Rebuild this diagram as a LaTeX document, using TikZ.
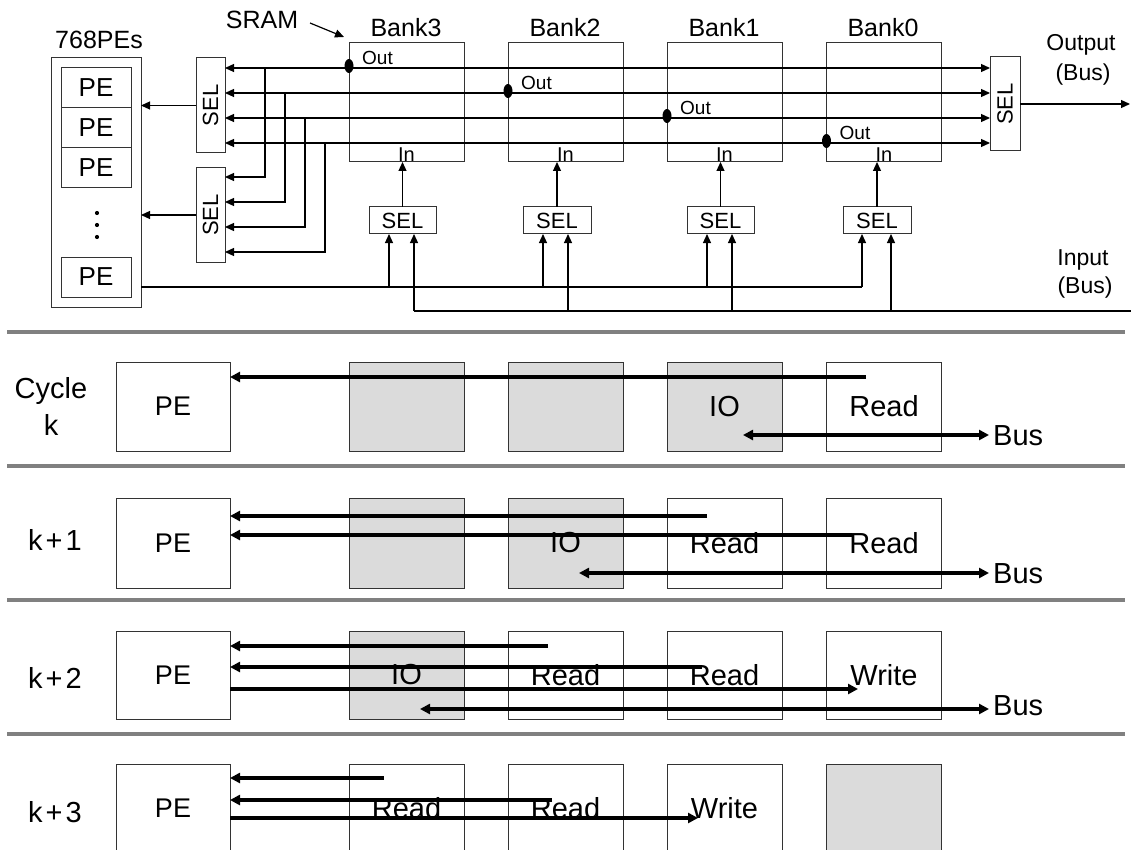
\documentclass[tikz,border=0pt]{standalone}
\usepackage{fontspec}
\setmainfont{Liberation Sans}
\usetikzlibrary{arrows.meta}
\newcommand\myfs[1]{\fontsize{#1}{#1}\selectfont}
\begin{document}
\begin{tikzpicture}[x=1pt,y=-1pt,
  box/.style={draw=black!80, line width=1pt, inner sep=0pt, outer sep=0pt, fill=white},
  gbox/.style={box, fill=black!14},
  tl/.style={line width=1.2pt},
  ttip/.style={tl, -{Triangle[length=9pt,width=8pt]}},
  ttwo/.style={tl, {Triangle[length=9pt,width=8pt]}-{Triangle[length=9pt,width=8pt]}},
  rl/.style={line width=3.2pt},
  rtip/.style={rl, -{Triangle[length=10pt,width=10pt]}},
  rtwo/.style={rl, {Triangle[length=10pt,width=10pt]}-{Triangle[length=10pt,width=10pt]}},
  sep/.style={draw=black!50, line width=3.8pt},
  lbl/.style={font=\myfs{25}, inner sep=0pt},
  sel/.style={box, font=\myfs{22}},
  rowtxt/.style={font=\myfs{29}},
]
\clip (0,0) rectangle (1131,850);
\fill[white] (0,0) rectangle (1131,850);

% ---------- top: architecture ----------
\node[lbl] (t768) at (99,40) {768PEs};
\node[lbl] (tsram) at (262,20) {SRAM};
\coordinate (sramA) at (310,23);
\coordinate (sramB) at (344,37);
\draw[ttip] (sramA) -- (sramB);

\node[box, minimum width=90, minimum height=249] (peo) at (96,182.5) {};
\node[box, minimum width=70, minimum height=40, font=\myfs{26}] (pe1) at (96,88) {PE};
\node[box, minimum width=70, minimum height=40, font=\myfs{26}] (pe2) at (96,128) {PE};
\node[box, minimum width=70, minimum height=40, font=\myfs{26}] (pe3) at (96,168) {PE};
\node[box, minimum width=70, minimum height=40, font=\myfs{26}] (pe4) at (96,277) {PE};
\fill (97,213) circle (2.1) (97,225) circle (2.1) (97,237) circle (2.1);

\node[sel, minimum width=29, minimum height=95] (selA) at (210.5,105.5) {};
\node[rotate=90, font=\myfs{22}, inner sep=0pt] at (selA.center) {SEL};
\node[sel, minimum width=29, minimum height=94] (selB) at (210.5,215) {};
\node[rotate=90, font=\myfs{22}, inner sep=0pt] at (selB.center) {SEL};
\node[sel, minimum width=30, minimum height=94] (selO) at (1005,104) {};
\node[rotate=90, font=\myfs{22}, inner sep=0pt] at (selO.center) {SEL};

\draw[ttip] (selA.west) -- (peo.east |- selA.west);
\draw[ttip] (selB.west) -- (peo.east |- selB.west);

% banks
\foreach \n/\cx/\sx/\sw in {b3/406.5/402.5/67, b2/565.5/557/68, b1/724.5/720.5/67, b0/884/877/68}{
  \node[box, minimum width=115, minimum height=119] (\n) at (\cx,102.5) {};
  \node[sel, minimum width=\sw, minimum height=27] (s\n) at (\sx,220.5) {SEL};
  \node[font=\myfs{20}, inner sep=0pt] at (\cx,155) {In};
  \draw[ttip] (s\n.north) -- (s\n.north |- \n.south);
}
\node[lbl] at (406,28) {Bank3};
\node[lbl] at (565,28) {Bank2};
\node[lbl] at (724,28) {Bank1};
\node[lbl] at (883,28) {Bank0};

% bus lines
\foreach \y in {68,93,118,143}{
  \draw[ttwo] (selA.east |- 0,\y) -- (selO.west |- 0,\y);
}
% drops to lower SEL
\draw[ttip] (265,68) |- (selB.east |- 0,177);
\draw[ttip] (285,93) |- (selB.east |- 0,202);
\draw[ttip] (305,118) |- (selB.east |- 0,227);
\draw[ttip] (325,143) |- (selB.east |- 0,252);

% out dots and labels
\foreach \n/\y in {b3/68, b2/93, b1/118, b0/143}{
  \fill (\n.west |- 0,\y) ++(0,-2) ellipse (4.5 and 7);
  \node[font=\myfs{19}, inner sep=0pt, anchor=west] at ([xshift=13pt]\n.west |- 0,\y-10) {Out};
}

% output
\coordinate (outend) at (1130,104);
\draw[ttip] (selO.east) -- (outend);
\node[font=\myfs{23}, inner sep=0pt] at (1081,45) {Output};
\node[font=\myfs{23}, inner sep=0pt] at (1083,75) {(Bus)};

% input lines
\draw[tl] (peo.east |- 0,287) -- (862,287);
\foreach \x/\s in {389/sb3, 543/sb2, 707/sb1, 862/sb0}{
  \draw[ttip] (\x,287) -- (\s.south -| \x,0);
}
\coordinate (inend) at (1131,311);
\draw[tl] (414,311) -- (inend);
\foreach \x/\s in {414/sb3, 568/sb2, 732/sb1, 891/sb0}{
  \draw[ttip] (\x,311) -- (\s.south -| \x,0);
}
\node[font=\myfs{23}, inner sep=0pt] at (1083,260) {Input};
\node[font=\myfs{23}, inner sep=0pt] at (1085,288) {(Bus)};

% ---------- bottom: cycles ----------
\foreach \y in {332,466,600,734}{
  \draw[sep] (7,\y) -- (1125,\y);
}

% row 1
\node[box, minimum width=114, minimum height=89, font=\myfs{27}] (p1) at (173,406.5) {PE};
\node[gbox, minimum width=115, minimum height=89] (r1c3) at (406.5,406.5) {};
\node[gbox, minimum width=115, minimum height=89] (r1c2) at (565.5,406.5) {};
\node[gbox, minimum width=115, minimum height=89, rowtxt] (r1c1) at (724.5,406.5) {IO};
\node[box, minimum width=115, minimum height=89, rowtxt] (r1c0) at (884,406.5) {Read};
\node[align=center, font=\fontsize{29}{37}\selectfont] at (51,406) {Cycle\\k};
\draw[rtip] (866,377) -- (p1.east |- 0,377);
\draw[rtwo] (743,435) -- (989,435);
\node[rowtxt, anchor=west, inner sep=0pt] at (993,436) {Bus};

% row 2
\node[box, minimum width=114, minimum height=90, font=\myfs{27}] (p2) at (173,543) {PE};
\node[gbox, minimum width=115, minimum height=90] (r2c3) at (406.5,543) {};
\node[gbox, minimum width=115, minimum height=90, rowtxt] (r2c2) at (565.5,543) {IO};
\node[box, minimum width=115, minimum height=90, rowtxt] (r2c1) at (724.5,543) {Read};
\node[box, minimum width=115, minimum height=90, rowtxt] (r2c0) at (884,543) {Read};
\node[rowtxt] at (55,540) {k\kern3pt+\kern3pt1};
\draw[rtip] (707,516) -- (p2.east |- 0,516);
\draw[rtip] (852,535) -- (p2.east |- 0,535);
\draw[rtwo] (579,573) -- (989,573);
\node[rowtxt, anchor=west, inner sep=0pt] at (993,574) {Bus};

% row 3
\node[box, minimum width=114, minimum height=88, font=\myfs{27}] (p3) at (173,675) {PE};
\node[gbox, minimum width=115, minimum height=88, rowtxt] (r3c3) at (406.5,675) {IO};
\node[box, minimum width=115, minimum height=88, rowtxt] (r3c2) at (565.5,675) {Read};
\node[box, minimum width=115, minimum height=88, rowtxt] (r3c1) at (724.5,675) {Read};
\node[box, minimum width=115, minimum height=88, rowtxt] (r3c0) at (884,675) {Write};
\node[rowtxt] at (55,678) {k\kern3pt+\kern3pt2};
\draw[rtip] (548,646) -- (p3.east |- 0,646);
\draw[rtip] (702,667) -- (p3.east |- 0,667);
\draw[rtip] (p3.east |- 0,689) -- (858,689);
\draw[rtwo] (420,709) -- (989,709);
\node[rowtxt, anchor=west, inner sep=0pt] at (993,706) {Bus};

% row 4
\node[box, minimum width=114, minimum height=89, font=\myfs{27}] (p4) at (173,808.5) {PE};
\node[box, minimum width=115, minimum height=89, rowtxt] (r4c3) at (406.5,808.5) {Read};
\node[box, minimum width=115, minimum height=89, rowtxt] (r4c2) at (565.5,808.5) {Read};
\node[box, minimum width=115, minimum height=89, rowtxt] (r4c1) at (724.5,808.5) {Write};
\node[gbox, minimum width=115, minimum height=89] (r4c0) at (884,808.5) {};
\node[rowtxt] at (55,812) {k\kern3pt+\kern3pt3};
\draw[rtip] (384,778) -- (p4.east |- 0,778);
\draw[rtip] (552,800) -- (p4.east |- 0,800);
\draw[rtip] (p4.east |- 0,818) -- (698,818);
\end{tikzpicture}
\end{document}
